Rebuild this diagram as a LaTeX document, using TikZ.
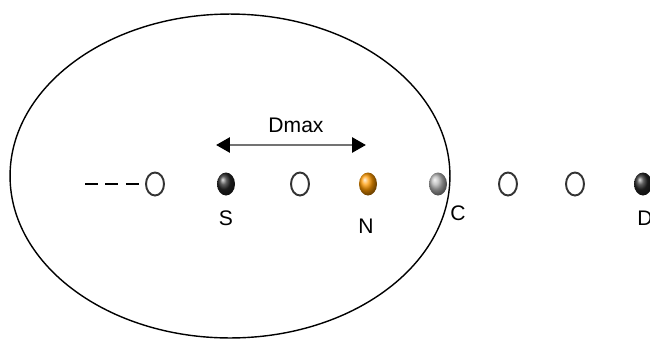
\documentclass[tikz,border=0pt]{standalone}
\usepackage{fontspec}
\setmainfont{Liberation Sans}
\usetikzlibrary{shapes.geometric,arrows.meta}
\begin{document}
\begin{tikzpicture}[x=0.02cm,y=-0.02cm,
  dot/.style={ellipse,minimum width=0.36cm,minimum height=0.46cm,inner sep=0pt},
  opendot/.style={dot,draw=black!80,line width=1.1pt,fill=white},
  darkdot/.style={dot,shading=ball,ball color=black!85},
  orangedot/.style={dot,shading=ball,ball color=orange!80!yellow},
  greydot/.style={dot,shading=ball,ball color=black!30},
  lbl/.style={font=\fontsize{12}{14}\selectfont,inner sep=0pt}]
\useasboundingbox (0,0) rectangle (650,339);
\clip (0,0) rectangle (650,339);
\node[draw,ellipse,line width=0.8pt,minimum width=8.8cm,minimum height=6.48cm,inner sep=0pt] (oval) at (230,176) {};
\coordinate (dl) at (85,184);
\coordinate (dr) at (139,184);
\node[opendot] (o1) at (155,184) {};
\node[darkdot] (s) at (226,184) {};
\node[opendot] (o2) at (300,184) {};
\node[orangedot] (n) at (368,184) {};
\node[greydot] (c) at (438,184) {};
\node[opendot] (o3) at (508,184) {};
\node[opendot] (o4) at (575,184) {};
\node[darkdot] (d) at (643,184) {};
\draw[line width=1.2pt,dash pattern=on 0.26cm off 0.15cm] (dl) -- (dr);
\coordinate (al) at (216,145);
\coordinate (ar) at (366,145);
\draw[draw=black!55,line width=1.6pt,{Triangle[length=0.28cm,width=0.3cm,color=black]}-{Triangle[length=0.28cm,width=0.3cm,color=black]}] (al) -- (ar);
\node[lbl] (dmax) at (296,125) {Dmax};
\node[lbl] (ls) at (226,218) {S};
\node[lbl] (ln) at (366,226) {N};
\node[lbl] (lc) at (458,213) {C};
\node[lbl] (ld) at (645,218) {D};
\end{tikzpicture}
\end{document}
